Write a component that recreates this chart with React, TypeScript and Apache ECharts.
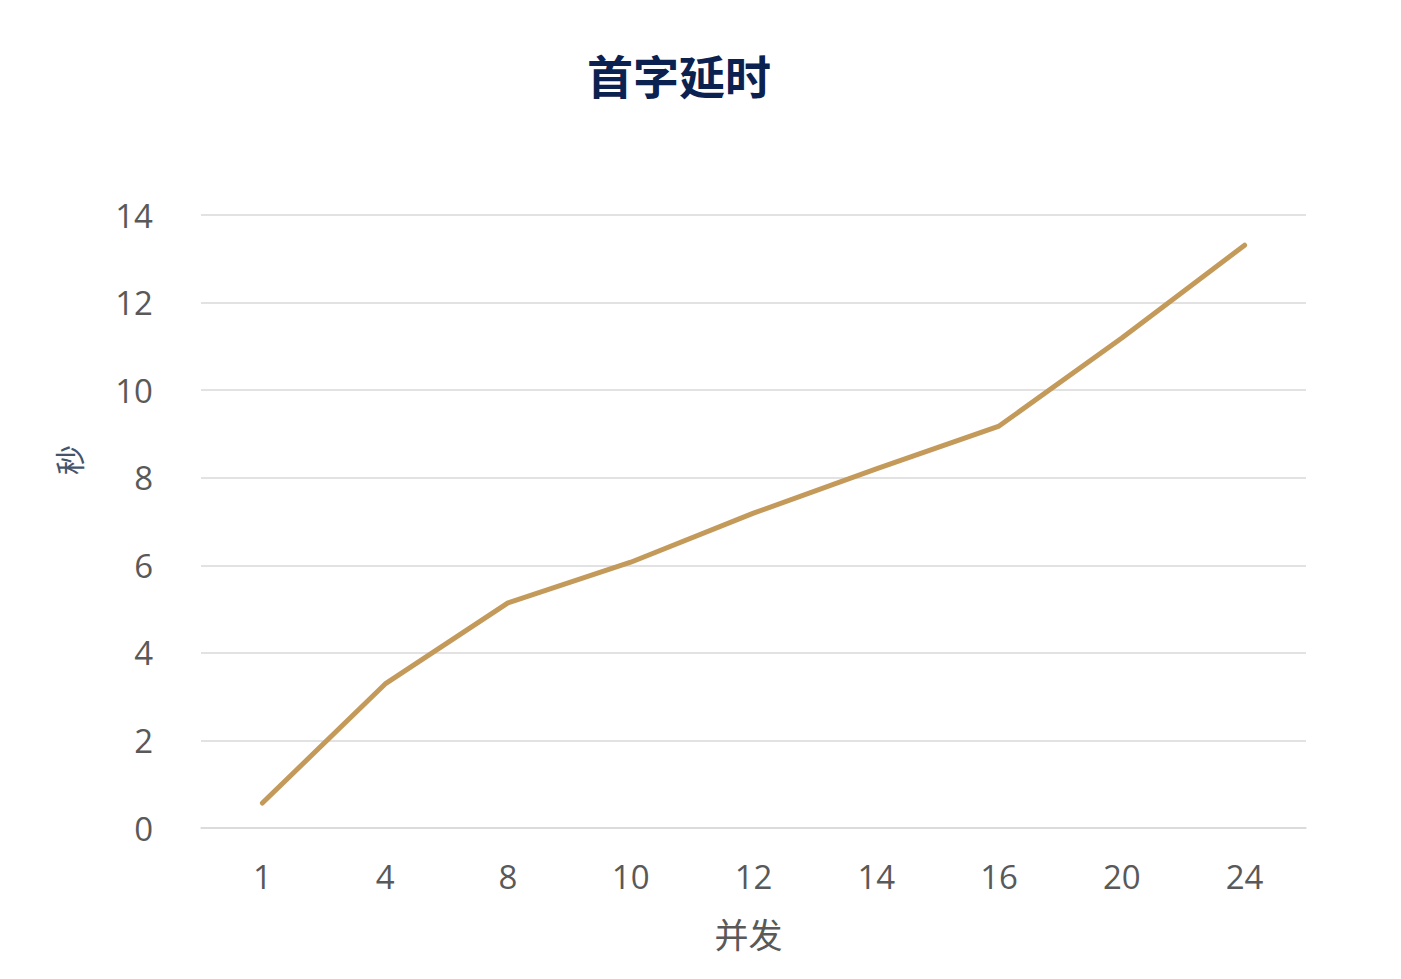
import React, { useEffect, useRef } from "react";
import * as echarts from "echarts";

const categories = ["1", "4", "8", "10", "12", "14", "16", "20", "24"];
const latency = [0.57, 3.29, 5.14, 6.07, 7.19, 8.2, 9.18, 11.19, 13.31];
const yTicks = [0, 14, 2];

export default function App() {
    const ref = useRef<HTMLDivElement | null>(null);

    useEffect(() => {
        if (!ref.current) return;
        const inst = echarts.init(ref.current, undefined, { renderer: "svg" });
        const option: echarts.EChartsOption = {
            animation: false,
            backgroundColor: "#ffffff",
            title: {
                text: "首字延时",
                left: 582,
                top: 46,
                textStyle: {
                    fontFamily: "Noto Sans CJK SC",
                    fontSize: 46,
                    fontWeight: "bold",
                    color: "#0B2150",
                },
            },
            grid: { left: 201, right: 95, top: 215, bottom: 151 },
            graphic: [
                {
                    type: "text",
                    x: 68,
                    y: 460,
                    rotation: Math.PI / 2,
                    style: {
                        text: "秒",
                        fontFamily: "Noto Sans CJK SC",
                        fontSize: 30,
                        fill: "#44546A",
                        align: "center",
                        verticalAlign: "middle",
                    },
                },
            ],
            xAxis: {
                type: "category",
                data: categories,
                name: "并发",
                nameLocation: "middle",
                nameGap: 88,
                nameTextStyle: { fontFamily: "Noto Sans CJK SC", fontSize: 34, color: "#595959", padding: [0, 10, 0, 0] },
                axisLine: { show: true, lineStyle: { color: "#D9D9D9", width: 1.5 } },
                axisTick: { show: false },
                axisLabel: { fontFamily: "Open Sans", fontSize: 33, color: "#595959", margin: 32 },
            },
            yAxis: {
                type: "value",
                min: yTicks[0],
                max: yTicks[1],
                interval: yTicks[2],
                axisLine: { show: false },
                axisTick: { show: false },
                axisLabel: { fontFamily: "Open Sans", fontSize: 33, color: "#595959", margin: 48 },
                splitLine: { lineStyle: { color: "#D9D9D9", width: 1.5 } },
            },
            series: [
                {
                    type: "line",
                    data: latency,
                    showSymbol: false,
                    symbol: "none",
                    lineStyle: { color: "#C49A5A", width: 5, cap: "round", join: "round" },
                },
            ],
        };
        inst.setOption(option);
        return () => inst.dispose();
    }, []);

    return (
        <div
            ref={ref}
            style={{ position: "fixed", left: 0, top: 0, width: 1401, height: 979 }}
        />
    );
}
